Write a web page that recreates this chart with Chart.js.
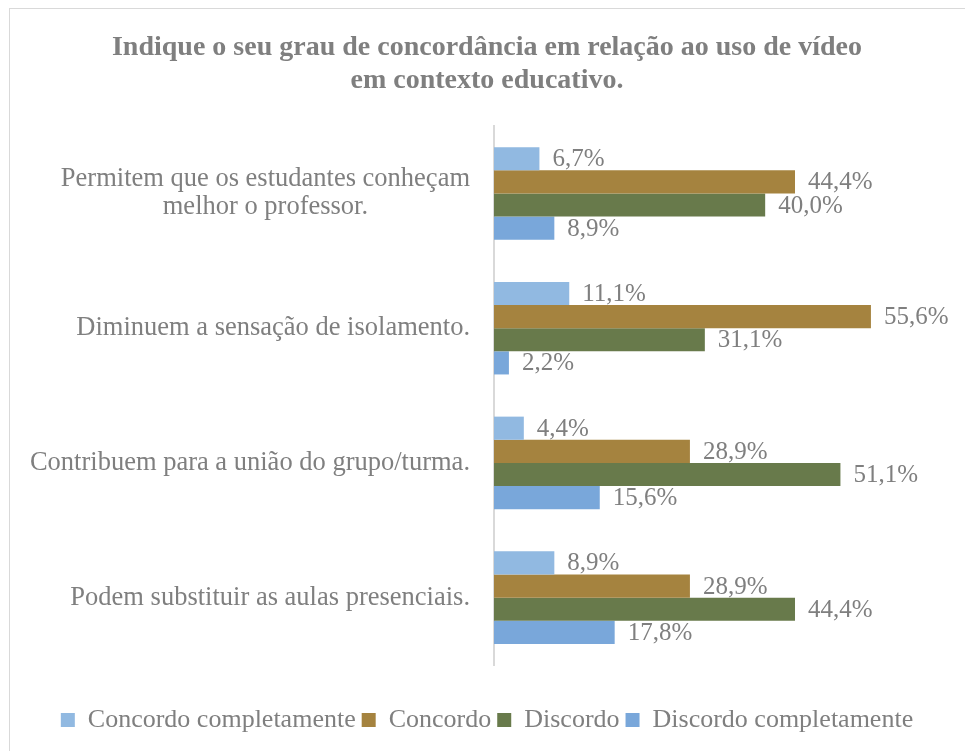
<!DOCTYPE html>
<html>
<head>
<meta charset="utf-8">
<script src="https://cdn.jsdelivr.net/npm/chart.js@4/dist/chart.umd.min.js"></script>
<style>
  html, body { margin: 0; padding: 0; background: #ffffff; overflow: hidden; }
  #wrap { position: absolute; left: 0; top: 0; width: 965px; height: 751px; }
</style>
</head>
<body>
<div id="wrap"><canvas id="c" width="965" height="751"></canvas></div>
<script>
const titleLines = ["Indique o seu grau de concordância em relação ao uso de vídeo", "em contexto educativo."];
const categories = [
  ["Permitem que os estudantes conheçam", "melhor o professor."],
  "Diminuem a sensação de isolamento.",
  "Contribuem para a união do grupo/turma.",
  "Podem substituir as aulas presenciais."
];
const seriesNames = ["Concordo completamente", "Concordo", "Discordo", "Discordo completamente"];
const concordoCompletamente = [6.7, 11.1, 4.4, 8.9];
const concordo = [44.4, 55.6, 28.9, 28.9];
const discordo = [40.0, 31.1, 51.1, 44.4];
const discordoCompletamente = [8.9, 2.2, 15.6, 17.8];
const seriesColors = ["#91B9E1", "#A5833F", "#687A4B", "#79A7DA"];

const TEXT = "#7F7F7F";
const SERIF = "'Liberation Serif', 'Times New Roman', serif";

const frame = {
  id: "frame",
  beforeDraw(chart) {
    const ctx = chart.ctx;
    ctx.save();
    ctx.fillStyle = "#ffffff";
    ctx.fillRect(0, 0, chart.width, chart.height);
    ctx.strokeStyle = "#D9D9D9";
    ctx.lineWidth = 1;
    ctx.strokeRect(9.5, 8.5, 2000, 2000);
    ctx.restore();
  }
};

const valueLabels = {
  id: "valueLabels",
  afterDatasetsDraw(chart) {
    const ctx = chart.ctx;
    ctx.save();
    ctx.font = "25px " + SERIF;
    ctx.fillStyle = TEXT;
    ctx.textAlign = "left";
    ctx.textBaseline = "middle";
    chart.data.datasets.forEach((ds, di) => {
      const meta = chart.getDatasetMeta(di);
      meta.data.forEach((bar, i) => {
        const v = ds.data[i];
        ctx.fillText(v.toFixed(1).replace(".", ",") + "%", bar.x + 13, bar.y + 1);
      });
    });
    ctx.restore();
  }
};

const catLabels = {
  id: "catLabels",
  afterDraw(chart) {
    const ctx = chart.ctx;
    const scale = chart.scales.y;
    const right = scale.right - 24;
    const lh = 28;
    ctx.save();
    ctx.font = "26.5px " + SERIF;
    ctx.fillStyle = TEXT;
    ctx.textAlign = "center";
    ctx.textBaseline = "middle";
    categories.forEach((lab, i) => {
      const lines = Array.isArray(lab) ? lab : [lab];
      const w = Math.max(...lines.map(l => ctx.measureText(l).width));
      const cx = right - w / 2;
      const y = scale.getPixelForTick(i);
      const y0 = y - (lines.length - 1) * lh / 2;
      lines.forEach((l, k) => ctx.fillText(l, cx, y0 + k * lh));
    });
    ctx.restore();
  }
};

new Chart(document.getElementById("c"), {
  type: "bar",
  data: {
    labels: categories,
    datasets: [
      { label: seriesNames[0], data: concordoCompletamente, backgroundColor: seriesColors[0] },
      { label: seriesNames[1], data: concordo, backgroundColor: seriesColors[1] },
      { label: seriesNames[2], data: discordo, backgroundColor: seriesColors[2] },
      { label: seriesNames[3], data: discordoCompletamente, backgroundColor: seriesColors[3] }
    ]
  },
  plugins: [frame, valueLabels, catLabels],
  options: {
    indexAxis: "y",
    responsive: false,
    animation: false,
    devicePixelRatio: 1,
    layout: { padding: { left: 19, right: 10, top: 0, bottom: 8 } },
    datasets: { bar: { barPercentage: 1.0, categoryPercentage: 0.687 } },
    scales: {
      x: {
        display: true, min: 0, max: 68,
        afterFit(scale) { scale.height = 36; },
        grid: { display: false, drawTicks: false },
        border: { display: false },
        ticks: { display: false }
      },
      y: {
        afterFit(scale) { scale.width = 475; },
        grid: { display: false, drawTicks: false },
        border: { display: true, color: "#D9D9D9", width: 2 },
        ticks: { color: "rgba(0,0,0,0)", font: { size: 22, family: SERIF } }
      }
    },
    plugins: {
      title: {
        display: true,
        text: titleLines,
        color: TEXT,
        font: { size: 28, weight: "bold", family: SERIF, lineHeight: 1.18 },
        padding: { top: 31, bottom: 29 }
      },
      legend: {
        position: "bottom",
        labels: {
          color: TEXT,
          font: { size: 26, family: SERIF },
          boxWidth: 14,
          boxHeight: 14,
          padding: 6
        }
      },
      tooltip: { enabled: false }
    }
  }
});
</script>
</body>
</html>
